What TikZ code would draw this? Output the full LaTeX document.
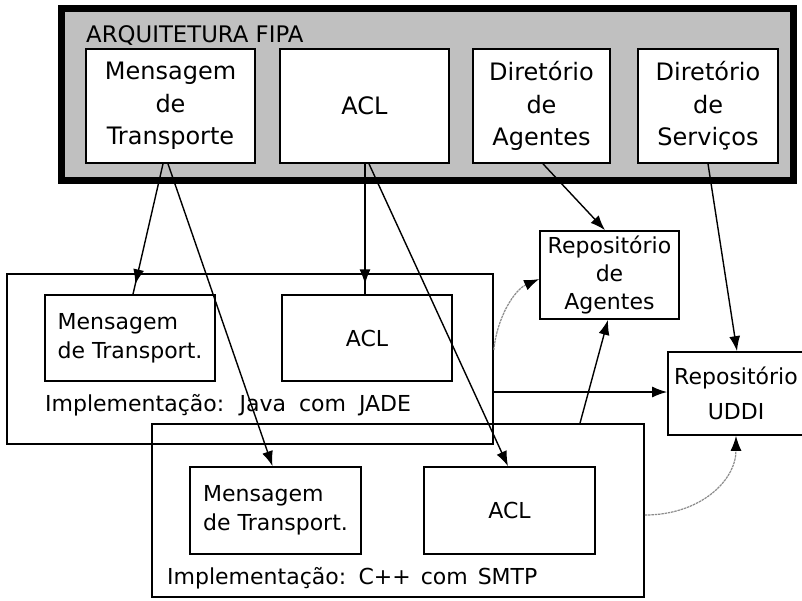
\documentclass[tikz,border=0pt]{standalone}
\usepackage{fontspec}
\setmainfont{DejaVu Sans}
\usetikzlibrary{arrows.meta,decorations.markings,calc}
\definecolor{fipagray}{RGB}{192,192,192}
\newcommand{\myWideSpace}{\spaceskip 13pt\relax}
\begin{document}
\begin{tikzpicture}[x=1pt,y=-1pt,
  box/.style={draw, line width=1.7pt, fill=white, inner sep=0pt, align=center},
  frame/.style={draw, line width=1.7pt, inner sep=0pt},
  bigtext/.style={font=\fontsize{24}{32.5}\selectfont},
  midtext/.style={font=\fontsize{22}{28}\selectfont},
  mttext/.style={font=\fontsize{22}{29}\selectfont, align=left},
  lbl/.style={font={\fontsize{22}{26}\selectfont\myWideSpace}, inner sep=0pt, anchor=base west},
  tip/.style={-{Latex[length=15pt,width=11pt]}},
  conn/.style={line width=1.4pt, tip},
  midconn/.style={line width=1.4pt, postaction={decorate},
    decoration={markings, mark=at position #1 with {\arrow{Latex[length=15pt,width=11pt]}}}},
  soft/.style={line width=1.2pt, draw=black!45, dash pattern=on 2.5pt off 0.8pt, -{Latex[length=15pt,width=11pt,color=black]}}
]
\useasboundingbox (0,0) rectangle (802,600);
\fill[white] (0,0) rectangle (802,600);

% FIPA architecture
\node[draw, line width=7pt, fill=fipagray, minimum width=732pt, minimum height=172pt, inner sep=0pt] (fipa) at (427,94) {};
\node[font=\fontsize{22.8}{26}\selectfont, inner sep=0pt, anchor=base west] (ftitle) at (86,42) {ARQUITETURA FIPA};
\node[box, bigtext, minimum width=169pt, minimum height=114pt] (fmt) at (170.5,106) {Mensagem\\de\\Transporte};
\node[box, bigtext, minimum width=169pt, minimum height=114pt] (facl) at (364.5,106) {ACL};
\node[box, bigtext, minimum width=137pt, minimum height=114pt] (fda) at (541.5,106) {Diretório\\de\\Agentes};
\node[box, bigtext, minimum width=140pt, minimum height=114pt] (fds) at (708,106) {Diretório\\de\\Serviços};

% Java implementation
\node[frame, minimum width=486pt, minimum height=170pt] (java) at (250,359) {};
\node[box, mttext, minimum width=170pt, minimum height=86pt] (jmt) at (130,338) {Mensagem\\de Transport.};
\node[box, font=\fontsize{22}{26}\selectfont, minimum width=170pt, minimum height=86pt] (jacl) at (367,338) {ACL};
\node[lbl] (jlbl) at (45,411) {Implementação: Java com JADE};

% C++ implementation
\node[frame, minimum width=492pt, minimum height=173pt] (cpp) at (398,510.5) {};
\node[box, mttext, minimum width=171pt, minimum height=87pt] (cmt) at (275.5,510.5) {Mensagem\\de Transport.};
\node[box, font=\fontsize{22}{26}\selectfont, minimum width=171pt, minimum height=87pt] (cacl) at (509.5,510.5) {ACL};
\node[lbl, font={\fontsize{22}{26}\selectfont\spaceskip 10pt\relax}] (clbl) at (167,584) {Implementação: C++ com SMTP};

% Repositories
\node[box, midtext, minimum width=139pt, minimum height=88pt] (rag) at (609.5,275) {Repositório\\de\\Agentes};
\node[box, font=\fontsize{22}{35}\selectfont, minimum width=136pt, minimum height=83pt] (uddi) at (736,393.5) {Repositório\\UDDI};

% connectors
\draw[midconn=0.925] ([xshift=-7.5pt]fmt.south) -- ([xshift=3pt]jmt.north);
\draw[conn] ([xshift=-2.5pt]fmt.south) -- ([xshift=-3pt]cmt.north);
\draw[midconn=0.925] ([xshift=0.5pt]facl.south) -- ([xshift=-2pt]jacl.north);
\draw[conn] ([xshift=4.5pt]facl.south) -- ([xshift=-1.5pt]cacl.north);
\draw[conn] ([xshift=1.5pt]fda.south) -- ([xshift=-4.5pt]rag.north);
\draw[conn] (fds.south) -- ([xshift=1pt]uddi.north);
\draw[soft] ([yshift=9pt]java.east) .. controls +(3,-32) and +(-25,11) .. ([yshift=-4pt]rag.west);
\draw[conn] ([yshift=-33pt]java.east) -- ([yshift=1.5pt]uddi.west);
\draw[conn] ([xshift=182pt]cpp.north) -- ([xshift=-1.5pt]rag.south);
\draw[soft] ([yshift=-4.5pt]cpp.east) .. controls +(55,0) and +(0,45) .. (uddi.south);
\end{tikzpicture}
\end{document}
